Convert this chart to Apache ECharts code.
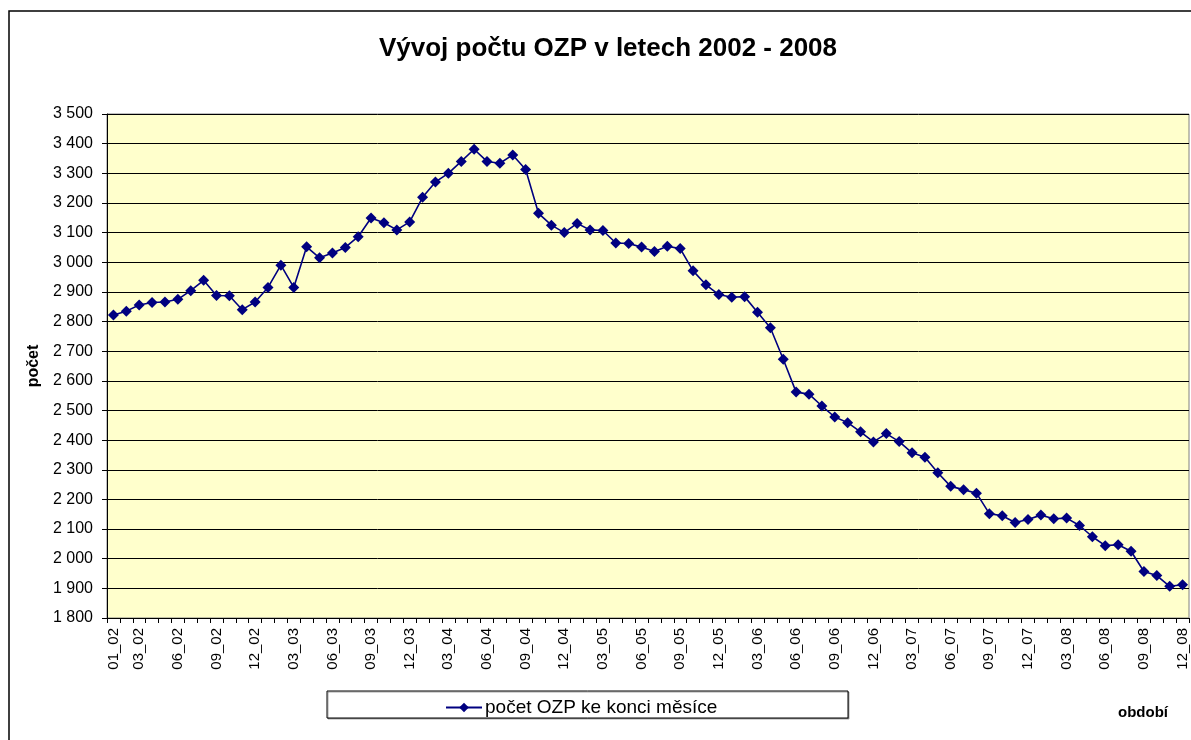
<!DOCTYPE html>
<html>
<head>
<meta charset="utf-8">
<script src="https://cdn.jsdelivr.net/npm/echarts@6/dist/echarts.min.js"></script>
<style>
  html, body { margin: 0; padding: 0; background: #fff; }
  #main { width: 1191px; height: 740px; }
</style>
</head>
<body>
<div id="main"></div>
<script>
// months 01_02 .. 12_08
var years = ['02', '03', '04', '05', '06', '07', '08'];
var months = ['01', '02', '03', '04', '05', '06', '07', '08', '09', '10', '11', '12'];
var categories = [];
years.forEach(function (y) {
  months.forEach(function (m) { categories.push(m + '_' + y); });
});

var pocetOZP = [
  2822, 2835, 2856, 2864, 2866, 2875, 2904, 2939, 2888, 2887, 2840, 2866,
  2915, 2990, 2915, 3052, 3015, 3031, 3050, 3086, 3149, 3133, 3109, 3136,
  3219, 3271, 3300, 3340, 3381, 3340, 3334, 3362, 3313, 3165, 3125, 3100,
  3131, 3109, 3107, 3065, 3063, 3051, 3036, 3054, 3046, 2971, 2924, 2891,
  2882, 2884, 2831, 2779, 2673, 2562, 2555, 2515, 2478, 2459, 2428, 2394,
  2422, 2395, 2357, 2342, 2290, 2244, 2233, 2221, 2152, 2145, 2122, 2132,
  2147, 2135, 2137, 2112, 2074, 2044, 2047, 2025, 1957, 1943, 1907, 1912
];

var FONT = 'Liberation Sans, Arial, sans-serif';

var chart = echarts.init(document.getElementById('main'));
var option = {
  animation: false,
  textStyle: { fontFamily: FONT },
  title: {
    text: 'Vývoj počtu OZP v letech 2002 - 2008',
    left: 603,
    textAlign: 'center',
    top: 31,
    textStyle: { fontFamily: FONT, fontSize: 26, fontWeight: 'bold', color: '#000' }
  },
  graphic: [
    {
      type: 'rect',
      shape: { x: 9, y: 11, width: 1200, height: 740 },
      style: { fill: 'none', stroke: '#000', lineWidth: 1.5 },
      silent: true
    },
    {
      type: 'rect',
      z: -1,
      shape: { x: 327, y: 691, width: 521, height: 27 },
      style: {
        fill: '#fff', stroke: '#000', lineWidth: 1,
        shadowColor: 'rgba(0,0,0,0.35)', shadowOffsetX: 1, shadowOffsetY: 1
      },
      silent: true
    },
    {
      type: 'text',
      left: 1118,
      top: 705,
      style: { text: 'období', fontFamily: FONT, fontSize: 15, fontWeight: 'bold', fill: '#000' }
    }
  ],
  legend: {
    left: 440,
    top: 693,
    itemWidth: 36,
    itemHeight: 12,
    itemGap: 4,
    textStyle: { fontFamily: FONT, fontSize: 19, color: '#000', padding: [0, 0, 0, -2] },
    data: ['počet OZP ke konci měsíce']
  },
  grid: {
    left: 107,
    top: 114,
    width: 1082,
    height: 504,
    show: true,
    backgroundColor: '#FFFFCC',
    borderColor: '#808080',
    borderWidth: 1
  },
  xAxis: {
    type: 'category',
    data: categories,
    boundaryGap: true,
    axisLine: { lineStyle: { color: '#000', width: 1 } },
    axisTick: { show: true, interval: 0, length: 5, lineStyle: { color: '#000' } },
    axisLabel: {
      rotate: 90,
      margin: 10,
      fontSize: 15,
      fontFamily: FONT,
      color: '#000',
      interval: function (index, value) {
        var m = parseInt(value.slice(0, 2), 10);
        return index === 0 || m % 3 === 0;
      }
    },
    splitLine: { show: false }
  },
  yAxis: {
    type: 'value',
    min: 1800,
    max: 3500,
    interval: 100,
    name: 'počet',
    nameLocation: 'middle',
    nameGap: 62,
    nameRotate: 90,
    nameTextStyle: { fontFamily: FONT, fontSize: 16, fontWeight: 'bold', color: '#000' },
    axisLine: { show: true, lineStyle: { color: '#000', width: 1 } },
    axisTick: { show: true, length: 5, lineStyle: { color: '#000' } },
    axisLabel: {
      fontSize: 16,
      fontFamily: FONT,
      color: '#000',
      margin: 14,
      formatter: function (v) {
        return String(v).replace(/\B(?=(\d{3})+(?!\d))/g, ' ');
      }
    },
    splitLine: { show: true, lineStyle: { color: '#000', width: 1 } }
  },
  series: [{
    name: 'počet OZP ke konci měsíce',
    type: 'line',
    data: pocetOZP,
    symbol: 'diamond',
    symbolSize: 11,
    showAllSymbol: true,
    itemStyle: { color: '#000080' },
    lineStyle: { color: '#000080', width: 1.6 }
  }]
};
chart.setOption(option);
</script>
</body>
</html>
